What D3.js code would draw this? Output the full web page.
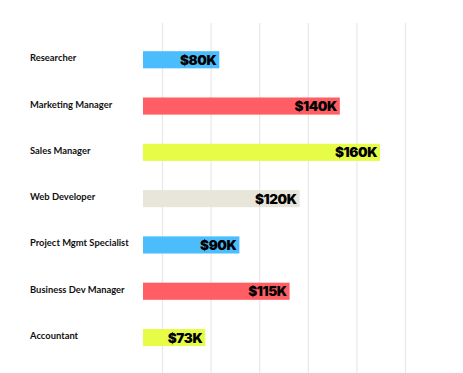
<!doctype html>
<html>
<head>
<meta charset="utf-8">
<title>Salaries</title>
<script src="https://cdn.jsdelivr.net/npm/d3@7"></script>
<style>
  html, body { margin: 0; padding: 0; background: #fff; }
</style>
</head>
<body>
<div id="chart"></div>
<script>
// data
var roles = ["Researcher", "Marketing Manager", "Sales Manager", "Web Developer",
             "Project Mgmt Specialist", "Business Dev Manager", "Accountant"];
var salaries = [80, 140, 160, 120, 90, 115, 73];
var valueLabels = ["$80K", "$140K", "$160K", "$120K", "$90K", "$115K", "$73K"];
var barColors = ["#4cbdfc", "#ff5f64", "#e6fc47", "#e8e6da", "#4cbdfc", "#ff5f64", "#e6fc47"];
var gridCols = [1, 2, 3, 4, 5, 6];

var width = 463, height = 373;

var svg = d3.select("#chart").append("svg")
    .attr("width", width)
    .attr("height", height);

var x = d3.scaleLinear().domain([42, 160]).range([143, 380]);
var y = d3.scaleBand().domain(roles).range([37.3, 360]).paddingInner(0.63).paddingOuter(0.3);
var gx = d3.scaleLinear().domain([1, 6]).range([162.5, 405.5]);

// grid lines
svg.append("g").selectAll("line")
    .data(gridCols)
  .enter().append("line")
    .attr("x1", function(d) { return gx(d); })
    .attr("x2", function(d) { return gx(d); })
    .attr("y1", 23)
    .attr("y2", height)
    .style("stroke", "#e8e8e8")
    .style("stroke-width", 1.2);

// bars
svg.append("g").selectAll("rect")
    .data(roles)
  .enter().append("rect")
    .attr("x", x(42))
    .attr("y", function(d) { return y(d); })
    .attr("width", function(d, i) { return x(salaries[i]) - x(42); })
    .attr("height", y.bandwidth())
    .style("fill", function(d, i) { return barColors[i]; });

// role labels
svg.append("g").selectAll("text")
    .data(roles)
  .enter().append("text")
    .attr("x", 30)
    .attr("y", function(d) { return y(d) + y.bandwidth() / 2 + 1.5; })
    .text(function(d) { return d; })
    .style("font-family", "Lato, sans-serif")
    .style("font-weight", 700)
    .style("font-size", "9.4px")
    .style("fill", "#111");

// value labels
svg.append("g").selectAll("text")
    .data(roles)
  .enter().append("text")
    .attr("x", function(d, i) { return x(salaries[i]) - 3; })
    .attr("y", function(d) { return y(d) + y.bandwidth() / 2 + 5; })
    .attr("text-anchor", "end")
    .text(function(d, i) { return valueLabels[i]; })
    .style("font-family", "Inter, sans-serif")
    .style("font-weight", 900)
    .style("font-size", "13.5px")
    .style("letter-spacing", "-0.4px")
    .style("fill", "#000");
</script>
</body>
</html>
